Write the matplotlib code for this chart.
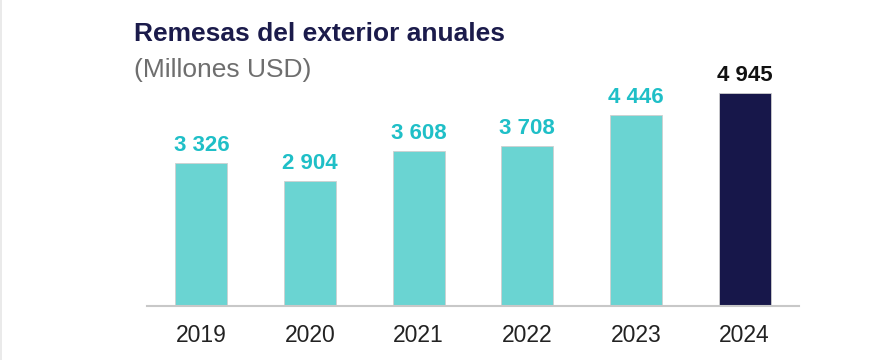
import matplotlib
matplotlib.use("Agg")
import matplotlib.pyplot as plt
from matplotlib.lines import Line2D

# data
years = ["2019", "2020", "2021", "2022", "2023", "2024"]
values = [3326, 2904, 3608, 3708, 4446, 4945]

TEAL = "#6AD4D2"
TEAL_TXT = "#1FBFC7"
NAVY = "#17174A"

plt.rcParams["font.family"] = ["Liberation Sans", "DejaVu Sans"]

fig = plt.figure(figsize=(8.86, 3.6), dpi=100)
ax = fig.add_axes([0.1659, 0.1508, 0.7359, 0.657])

colors = [TEAL] * (len(values) - 1) + [NAVY]
x = range(len(years))
bars = ax.bar(x, values, width=0.48, color=colors, edgecolor="#cfcfcf", linewidth=0.6)

for i, (b, v) in enumerate(zip(bars, values)):
    label = f"{v:,}".replace(",", " ")
    c = "#111111" if i == len(values) - 1 else TEAL_TXT
    ax.annotate(label, (b.get_x() + b.get_width() / 2, v),
                xytext=(0, 8.6), textcoords="offset points",
                ha="center", va="baseline", fontsize=16, fontweight="bold", color=c)

ax.set_xlim(-0.5, 5.5)
ax.set_ylim(0, 5500)
ax.set_xticks(list(x))
ax.set_xticklabels(years, fontsize=16.5, color="#222222")
ax.tick_params(axis="x", length=0, pad=13)
ax.set_yticks([])
for s in ["top", "right", "left"]:
    ax.spines[s].set_visible(False)
ax.spines["bottom"].set_color("#c8c8c8")
ax.spines["bottom"].set_linewidth(1.5)

fig.text(0.1512, 0.886, "Remesas del exterior anuales", fontsize=19,
         fontweight="bold", color="#1B1B4B", va="baseline", ha="left")
fig.text(0.1512, 0.786, "(Millones USD)", fontsize=19,
         color="#6E6E6E", va="baseline", ha="left")

# faint frame line on the left edge
fig.add_artist(Line2D([0.0015, 0.0015], [0, 1], transform=fig.transFigure,
                      color="#e6e6e6", linewidth=1.2))

fig.savefig("out.png", dpi=100)
